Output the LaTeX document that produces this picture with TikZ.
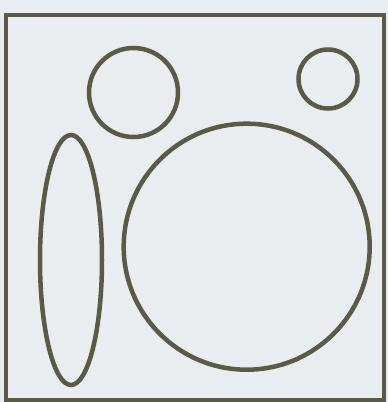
\documentclass[tikz,border=0pt]{standalone}
\usepackage{tikz}
\definecolor{ink}{HTML}{5B5A48}
\definecolor{paper}{HTML}{E9EDEF}
\tikzset{
  ring/.style={draw=ink,line width=4.5pt},
  frame/.style={draw=ink,line width=4pt},
}

\begin{document}
\begin{tikzpicture}[x=1pt,y=-1pt]
\fill[paper] (0,0) rectangle (388,402);
\useasboundingbox (0,0) rectangle (388,402);
\draw[frame] (6,15) rectangle (384,400);
\draw[ring] (133.5,92.5) circle (44.5);
\draw[ring] (328,79) circle (29.5);
\draw[ring] (246.7,246.7) circle (123);
\draw[ring] (71,260) ellipse (31 and 125);
\end{tikzpicture}
\end{document}
